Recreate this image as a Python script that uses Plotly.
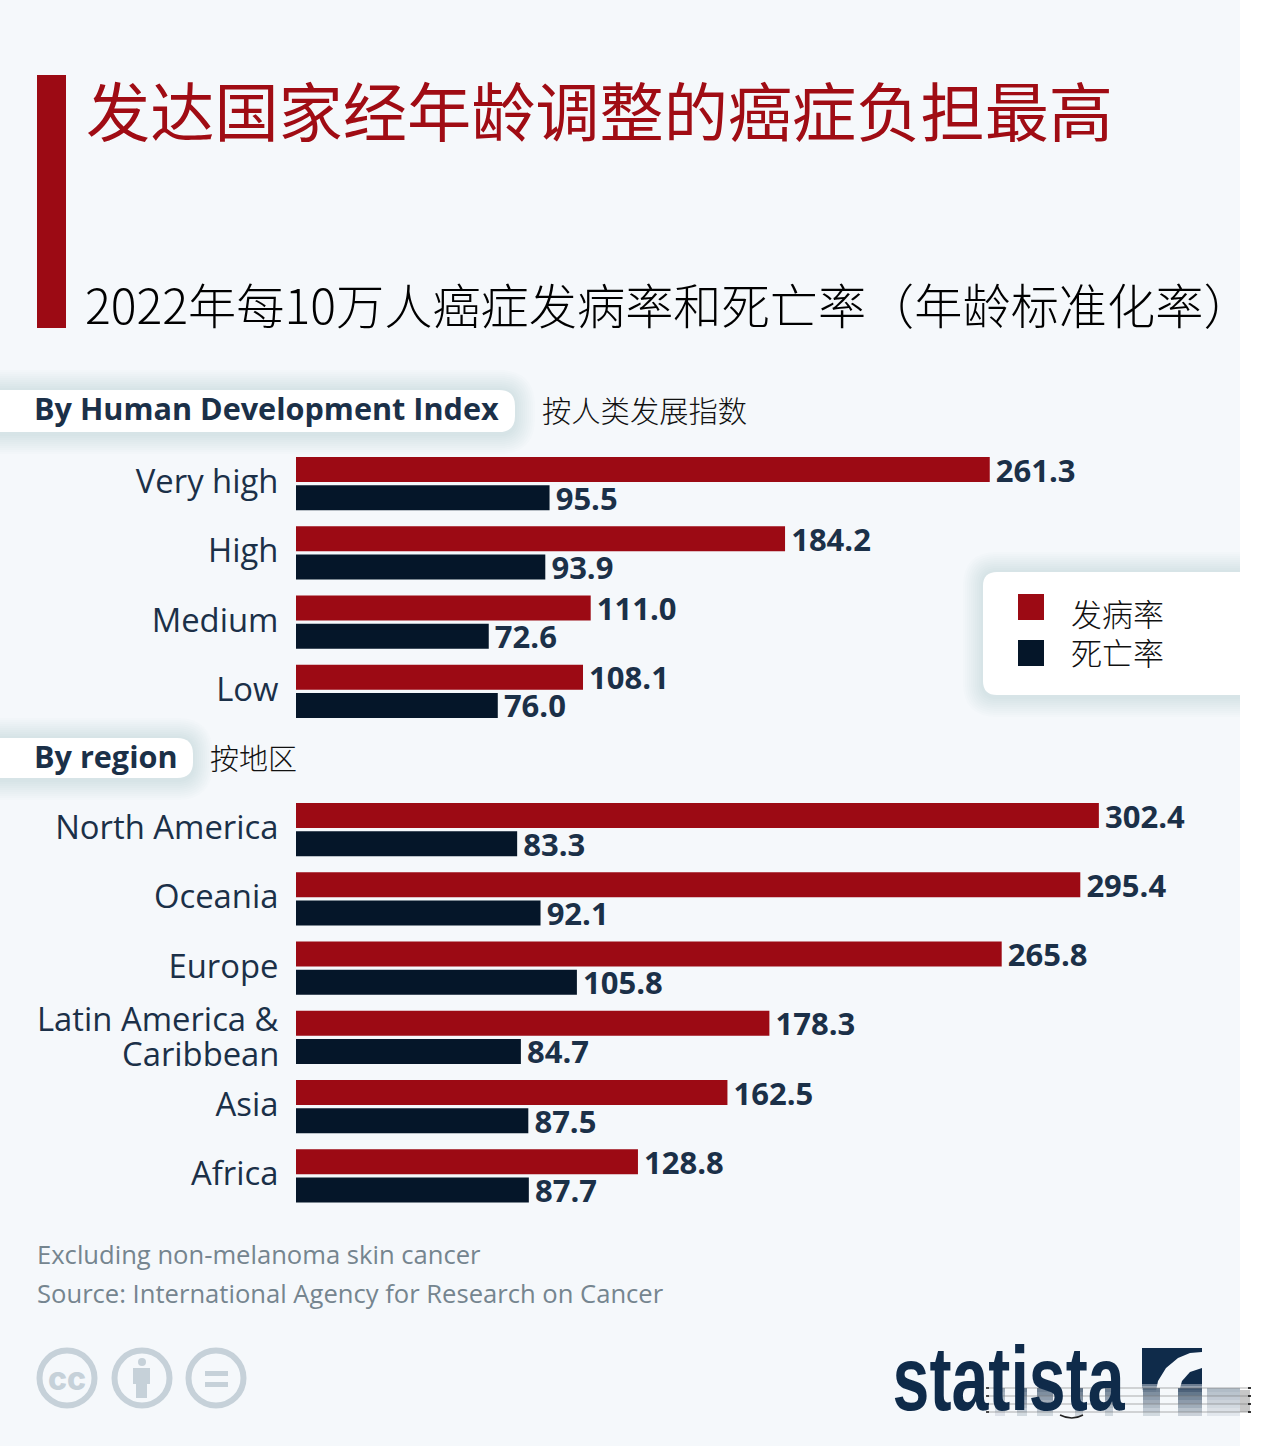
import plotly.graph_objects as go

W, H = 1280, 1446
RED, NAVY = "#9c0a14", "#051629"
BG = "#f5f8fb"
TXT = "#1b3048"

hdi_categories = ["Very high", "High", "Medium", "Low"]
hdi_incidence = [261.3, 184.2, 111.0, 108.1]
hdi_mortality = [95.5, 93.9, 72.6, 76.0]

region_categories = ["North America", "Oceania", "Europe", "Latin America & Caribbean", "Asia", "Africa"]
region_ticktext = ["North America", "Oceania", "Europe", "", "Asia", "Africa"]
region_incidence = [302.4, 295.4, 265.8, 178.3, 162.5, 128.8]
region_mortality = [83.3, 92.1, 105.8, 84.7, 87.5, 87.7]

series_names = ["发病率", "死亡率"]
CJK = "Noto Sans CJK SC"
LAT = "Open Sans"


def px(x):
    return x / W


def py(y):
    return 1 - y / H


def rect(x0, y0, x1, y1, color, opacity=1, layer="below"):
    return dict(type="rect", xref="paper", yref="paper", x0=px(x0), x1=px(x1), y0=py(y0), y1=py(y1),
                fillcolor=color, opacity=opacity, line_width=0, layer=layer)


def rounded(x0, y0, x1, y1, r, color, opacity=1):
    X0, X1, Y0, Y1 = px(x0), px(x1), py(y0), py(y1)
    rx, ry = r / W, r / H
    path = (f"M{X0},{Y0} L{X1-rx},{Y0} Q{X1},{Y0} {X1},{Y0-ry} L{X1},{Y1+ry} Q{X1},{Y1} {X1-rx},{Y1} L{X0},{Y1} Z")
    return dict(type="path", xref="paper", yref="paper", path=path, fillcolor=color, opacity=opacity,
                line_width=0, layer="below")


def rounded_box(x0, y0, x1, y1, r, color, opacity=1):
    X0, X1, Y0, Y1 = px(x0), px(x1), py(y0), py(y1)
    rx, ry = r / W, r / H
    path = (f"M{X0+rx},{Y0} L{X1},{Y0} L{X1},{Y1} L{X0+rx},{Y1} Q{X0},{Y1} {X0},{Y1+ry} "
            f"L{X0},{Y0-ry} Q{X0},{Y0} {X0+rx},{Y0} Z")
    return dict(type="path", xref="paper", yref="paper", path=path, fillcolor=color, opacity=opacity,
                line_width=0, layer="below")


def poly(points, color, layer="above"):
    d = "M" + " L".join(f"{px(x)},{py(y)}" for x, y in points) + " Z"
    return dict(type="path", xref="paper", yref="paper", path=d, fillcolor=color, line_width=0, layer=layer)


def circle(cx, cy, r, line, fill="rgba(0,0,0,0)", width=6, layer="below"):
    return dict(type="circle", xref="paper", yref="paper", x0=px(cx - r), x1=px(cx + r),
                y0=py(cy + r), y1=py(cy - r), line=dict(color=line, width=width), fillcolor=fill, layer=layer)


def note(x, y, text, size, color=TXT, family=LAT, anchor="left", weight=None):
    f = dict(size=size, color=color, family=family)
    if weight:
        f["weight"] = weight
    return dict(xref="paper", yref="paper", x=px(x), y=py(y), text=text, showarrow=False, xanchor=anchor,
                yanchor="middle", font=f, align=anchor)


fig = go.Figure()
for cats, inc, mor, ya in [(hdi_categories, hdi_incidence, hdi_mortality, "y"),
                           (region_categories, region_incidence, region_mortality, "y2")]:
    for vals, color, name in [(inc, RED, series_names[0]), (mor, NAVY, series_names[1])]:
        fig.add_trace(go.Bar(
            y=cats, x=vals, orientation="h", xaxis="x", yaxis=ya, name=name,
            marker=dict(color=color, line_width=0), showlegend=False,
            text=[f"\u200a{v:.1f}" for v in vals], textposition="outside", cliponaxis=False,
            textfont=dict(family=LAT, size=31, color=TXT, weight=700), constraintext="none",
        ))

shapes = [rect(0, 0, 1240, H, BG)]
for (x1, y0, y1, r) in [(515, 390, 432, 16), (193, 738, 778, 16)]:
    for g in range(20, 0, -2):
        shapes.append(rounded(0, y0 - g, x1 + g, y1 + g + 2, r + g, "#5a6b7a", 0.014))
    shapes.append(rounded(0, y0, x1, y1, r, "#ffffff"))
for g in range(20, 0, -2):
    shapes.append(rounded_box(983 - g, 572 - g, 1240, 695 + g + 2, 14 + g, "#5a6b7a", 0.014))
shapes.append(rounded_box(983, 572, 1240, 695, 14, "#ffffff"))
shapes += [rect(37, 75, 66, 328, RED),
           rect(1018, 594, 1044, 620, RED), rect(1018, 640, 1044, 666, NAVY)]

ICON = "#c6d1d9"
for cx in (67, 142, 216):
    shapes.append(circle(cx, 1378, 27.5, ICON))
shapes += [circle(142, 1362, 4, ICON, ICON, 0), rect(133, 1368, 150, 1384, ICON), rect(136, 1384, 147, 1398, ICON),
           rect(205, 1371, 228, 1376, ICON), rect(205, 1382, 228, 1387, ICON)]

LOGO = "#0f2b4a"
mx = [(1142, 1348), (1202, 1348), (1202, 1352), (1190, 1353), (1178, 1358), (1166, 1368), (1158, 1381),
      (1155, 1396), (1155, 1410), (1142, 1410)]
my = [(1202, 1368), (1202, 1410), (1178, 1410), (1178, 1395), (1182, 1381), (1190, 1372)]
shapes += [poly(mx, LOGO), poly(my, LOGO)]

annotations = [
    note(84, 108, "发达国家经年龄调整的癌症负担最高", 64.2, "#a00c14", CJK),
    note(83, 303, "2022年每10万人癌症发病率和死亡率（年龄标准化率）", 48.2, "#000000", CJK, weight=300),
    note(32, 408, "By Human Development Index", 30.6, TXT, LAT, weight=700),
    note(540, 409, "按人类发展指数", 29.3, "#111111", CJK, weight=300),
    note(32, 756, "By region", 30.6, TXT, LAT, weight=700),
    note(208, 757, "按地区", 29, "#111111", CJK, weight=300),
    note(1069, 612, series_names[0], 31, "#111111", CJK, weight=300),
    note(1069, 652, series_names[1], 31, "#111111", CJK, weight=300),
    note(35, 1254, "Excluding non-melanoma skin cancer", 25.6, "#75858f", LAT),
    note(35, 1293, "Source: International Agency for Research on Cancer", 25.6, "#75858f", LAT),
    note(281, 1018, "Latin America &", 32.8, TXT, LAT, "right"),
    note(281, 1053, "Caribbean", 32.8, TXT, LAT, "right"),
    note(67, 1378, "cc", 32, ICON, "Inter", "center", 800),
    note(1009, 1379, "statista", 90, LOGO, "Liberation Sans", "center", 700),
]

# the watermark band that covers the foot of the logo: fade, streaks, hairlines
for i in range(4):
    shapes.append(rect(985, 1384 + i * 2, 1240, 1386 + i * 2, BG, 0.4 + i * 0.18, "above"))
shapes.append(rect(985, 1392, 1240, 1418, BG, 1, "above"))
for x0, x1, a in [(995, 1005, .6), (1017, 1027, .9), (1037, 1053, .9), (1075, 1083, 1), (1105, 1113, .9),
                  (1143, 1160, .9), (1178, 1202, 1.1), (1207, 1240, .45)]:
    for i in range(7):
        shapes.append(rect(x0, 1388 + i * 4, x1, 1392 + i * 4, LOGO, a * (0.65 - i * 0.08), "above"))
shapes.append(rect(1240, 1390, 1250, 1412, "#b9b9b9", 0.8, "above"))
for y in (1388, 1396, 1404, 1412):
    shapes.append(rect(987, y - 0.7, 1250, y + 0.7, "#777777", 0.4, "above"))
    shapes.append(rect(1248, y - 1, 1251, y + 1, "#222222", 0.9, "above"))
    shapes.append(rect(986, y - 1, 989, y + 1, "#222222", 0.8, "above"))
shapes.append(dict(type="path", xref="paper", yref="paper", layer="above", fillcolor="rgba(0,0,0,0)",
                   line=dict(color="#222222", width=1.5),
                   path=f"M{px(1060)},{py(1415)} Q{px(1072)},{py(1421)} {px(1083)},{py(1415)}"))

AXIS = dict(autorange="reversed", categoryorder="array", anchor="free", position=px(296), showline=False,
            showgrid=False, zeroline=False, ticks="outside", ticklen=11, tickcolor="rgba(0,0,0,0)",
            tickfont=dict(family=LAT, size=32.8, color=TXT), ticklabelshift=2)

fig.update_layout(
    width=W, height=H, autosize=False, margin=dict(l=0, r=0, t=0, b=0),
    paper_bgcolor="#ffffff", plot_bgcolor="rgba(0,0,0,0)",
    barmode="group", bargap=0.19, bargroupgap=0.107, showlegend=False,
    xaxis=dict(domain=[0, 1], range=[-296 / 2.655, (W - 296) / 2.655], visible=False, fixedrange=True),
    yaxis=dict(domain=[py(726), py(449)], categoryarray=hdi_categories, **AXIS),
    yaxis2=dict(domain=[py(1210.5), py(795)], categoryarray=region_categories, tickmode="array",
                tickvals=region_categories, ticktext=region_ticktext, **AXIS),
    shapes=shapes, annotations=annotations,
)

POST = """
document.body.style.margin = '0';
document.querySelectorAll('.annotation-text').forEach(function (t) {
  if (t.textContent === 'statista') {
    t.setAttribute('textLength', '232');
    t.setAttribute('lengthAdjust', 'spacingAndGlyphs');
  }
});
"""
fig.write_html("out.html", config={"displayModeBar": False}, post_script=POST)
